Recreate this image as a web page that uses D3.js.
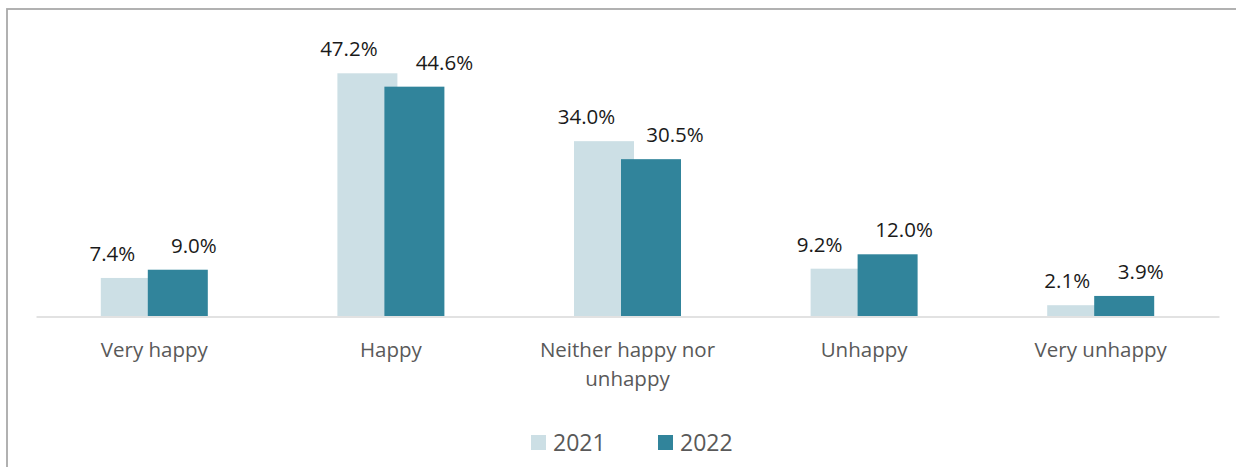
<!DOCTYPE html>
<html>
<head>
<meta charset="utf-8">
<script src="https://cdn.jsdelivr.net/npm/d3@7"></script>
<style>
  html, body { margin: 0; padding: 0; background: #fff; }
  svg { display: block; font-family: "Open Sans", "Noto Sans", sans-serif; }
</style>
</head>
<body>
<svg id="chart" width="1236" height="467"></svg>
<script>
// Happiness ratings, share of respondents (%)
const categories = ["Very happy", "Happy", "Neither happy nor unhappy", "Unhappy", "Very unhappy"];
const seriesNames = ["2021", "2022"];
const values2021 = [7.4, 47.2, 34.0, 9.2, 2.1];
const values2022 = [9.0, 44.6, 30.5, 12.0, 3.9];

// Category label lines (wrapped)
const categoryLines = [["Very happy"], ["Happy"], ["Neither happy nor", "unhappy"], ["Unhappy"], ["Very unhappy"]];

const colors = ["#CCDFE5", "#31849B"];

// Horizontal nudges for value labels, per series
const labelNudge = [[-18.5, -18.5, -17.5, -21, -10], [16, 30, 24, 16.5, 16.5]];

const svg = d3.select("#chart");
const W = 1236, H = 467;

// Outer frame (only top and left edges fall inside the view)
svg.append("rect")
  .attr("x", 7).attr("y", 9)
  .attr("width", W + 20).attr("height", H + 20)
  .attr("fill", "none")
  .attr("stroke", "#A9A9A9")
  .attr("stroke-width", 1.8);

const plot = { left: 36, right: 1219, baseline: 316 };

const x = d3.scaleBand()
  .domain(categories)
  .range([plot.left, plot.right])
  .paddingInner(0).paddingOuter(0);

const y = d3.scaleLinear()
  .domain([0, 50])
  .range([plot.baseline, plot.baseline - 257.1]);

const barW = 60, barStep = 47;
const series = [values2021, values2022];

function barX(cat, s) {
  const c = x(cat) + x.bandwidth() / 2;
  return c - (barStep + barW) / 2 + s * barStep;
}

// Bars: 2022 drawn after 2021 so it overlaps
series.forEach((vals, s) => {
  svg.append("g").selectAll("rect")
    .data(categories)
    .join("rect")
    .attr("x", (d) => barX(d, s))
    .attr("y", (d, i) => y(vals[i]))
    .attr("width", barW)
    .attr("height", (d, i) => y(0) - y(vals[i]))
    .attr("fill", colors[s]);
});

// Category axis line
const axis = d3.axisBottom(x).tickSize(0).tickFormat("");
const axisG = svg.append("g")
  .attr("transform", `translate(0,${plot.baseline + 0.5})`)
  .call(axis);
axisG.select(".domain").attr("stroke", "#D9D9D9").attr("stroke-width", 1.5);

// Category labels
const catG = svg.append("g");
categories.forEach((cat, i) => {
  const t = catG.append("text")
    .attr("x", x(cat) + x.bandwidth() / 2)
    .attr("y", 357)
    .attr("text-anchor", "middle")
    .attr("fill", "#595959")
    .style("font-size", "20.5px");
  categoryLines[i].forEach((line, j) => {
    t.append("tspan")
      .attr("x", x(cat) + x.bandwidth() / 2)
      .attr("dy", j === 0 ? 0 : 28.5)
      .text(line);
  });
});

// Value labels
series.forEach((vals, s) => {
  svg.append("g").selectAll("text")
    .data(categories)
    .join("text")
    .attr("x", (d, i) => barX(d, s) + barW / 2 + labelNudge[s][i])
    .attr("y", (d, i) => y(vals[i]) - 17)
    .attr("text-anchor", "middle")
    .attr("fill", "#1a1a1a")
    .style("font-size", "20.5px")
    .text((d, i) => vals[i].toFixed(1) + "%");
});

// Legend
const legendItems = [
  { name: seriesNames[0], color: colors[0], x: 531 },
  { name: seriesNames[1], color: colors[1], x: 658 }
];
const lg = svg.append("g");
legendItems.forEach((item) => {
  lg.append("rect")
    .attr("x", item.x).attr("y", 435)
    .attr("width", 15).attr("height", 15)
    .attr("fill", item.color);
  lg.append("text")
    .attr("x", item.x + 22).attr("y", 451)
    .attr("fill", "#595959")
    .style("font-size", "23px")
    .text(item.name);
});
</script>
</body>
</html>
